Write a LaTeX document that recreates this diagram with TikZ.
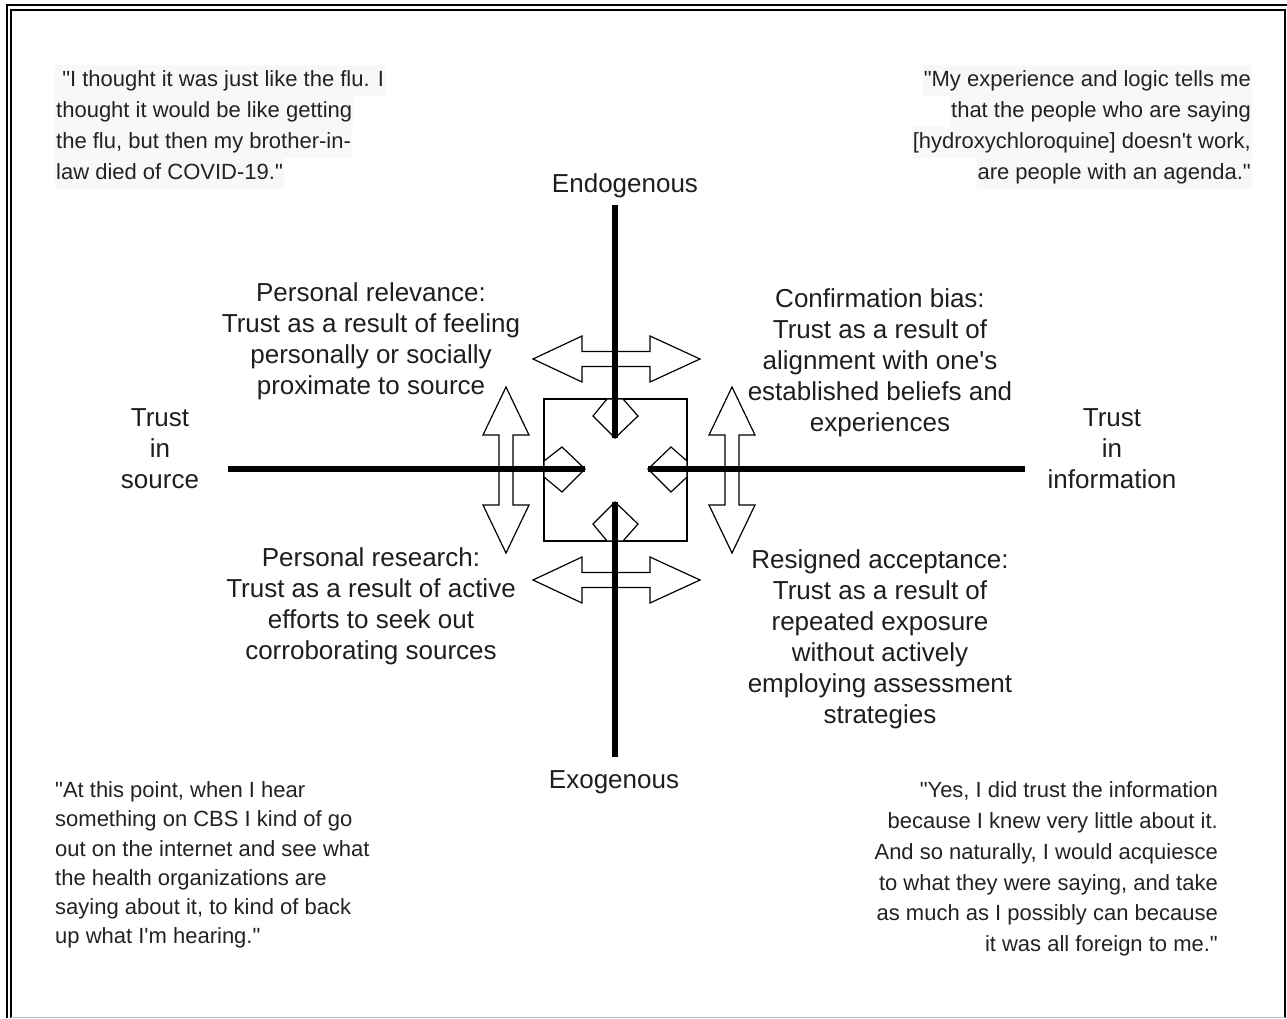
\documentclass[tikz,border=0pt]{standalone}
\usepackage{fontspec}
\setmainfont[Ligatures=TeXOff]{Liberation Sans}
\definecolor{txt}{HTML}{1E1E1E}
\definecolor{qtxt}{HTML}{222222}
\definecolor{qbg}{HTML}{F7F8FA}
\begin{document}
\begin{tikzpicture}[x=1pt,y=-1pt,
  lab/.style={font=\fontsize{26}{31}\selectfont, align=center, text=txt, inner sep=0pt},
  qline/.style={font=\fontsize{22}{31}\selectfont, text=qtxt, fill=qbg, inner xsep=1pt, inner ysep=0pt,
                minimum height=31pt, text height=16pt, text depth=5pt},
  qblock/.style={text=qtxt, inner sep=0pt},
  blockarrow/.style={draw=black, line width=1.2pt, fill=white, line join=miter},
  kite/.style={draw=black, line width=1.2pt, fill=white, line join=miter},
  axis/.style={draw=black, line width=6pt},
  frameline/.style={draw=black, line width=1.5pt}]
\useasboundingbox (0,0) rectangle (1287,1018);
% frame
\draw[frameline] (7,1018) -- (7,5) -- (1287,5);
\draw[frameline, line width=1.2pt] (11,1018) -- (11,10) -- (1285,10) -- (1285,1018);
\draw[black!25, line width=1pt] (11,1017.5) -- (1285,1017.5);

% top-left quote
\node[qline, anchor=west] (tl1) at (55,80.5) {\ "I thought it was just like the flu. I};
\node[qline, anchor=west] (tl2) at (55,111.5) {thought it would be like getting};
\node[qline, anchor=west] (tl3) at (55,142.5) {the flu, but then my brother-in-};
\node[qline, anchor=west] (tl4) at (55,173.5) {law died of COVID-19."};
% top-right quote
\node[qline, anchor=east] (tr1) at (1252,80.5) {"My experience and logic tells me};
\node[qline, anchor=east] (tr2) at (1252,111.5) {that the people who are saying};
\node[qline, anchor=east] (tr3) at (1252,142.5) {[hydroxychloroquine] doesn't work,};
\node[qline, anchor=east] (tr4) at (1252,173.5) {are people with an agenda."};
% bottom quotes
\node[qblock, font=\fontsize{22}{29.2}\selectfont, align=left, anchor=west] (bl) at (55,865)
  {"At this point, when I hear\\something on CBS I kind of go\\out on the internet and see what\\the health organizations are\\saying about it, to kind of back\\up what I'm hearing."};
\node[qblock, font=\fontsize{22}{30.8}\selectfont, align=right, anchor=east] (br) at (1218,869)
  {"Yes, I did trust the information\\because I knew very little about it.\\And so naturally, I would acquiesce\\to what they were saying, and take\\as much as I possibly can because\\it was all foreign to me."};

% labels
\node[lab] (endo) at (625,186) {Endogenous};
\node[lab] (exo) at (614,782) {Exogenous};
\node[lab] (tsrc) at (160,449) {Trust\\in\\source};
\node[lab] (tinf) at (1112,449) {Trust\\in\\information};
\node[lab] (prel) at (371,341) {Personal relevance:\\Trust as a result of feeling\\personally or socially\\proximate to source};
\node[lab] (conf) at (880,363) {Confirmation bias:\\Trust as a result of\\alignment with one's\\established beliefs and\\experiences};
\node[lab] (pres) at (371,606) {Personal research:\\Trust as a result of active\\efforts to seek out\\corroborating sources};
\node[lab] (resa) at (880,639) {Resigned acceptance:\\Trust as a result of\\repeated exposure\\without actively\\employing assessment\\strategies};

% central square
\draw[line width=1.2pt] (544,399) rectangle (687,541);

% double block arrows
\draw[blockarrow] (533,359) -- (582,336) -- (582,351.5) -- (650,351.5) -- (650,336) -- (700,359)
  -- (650,382) -- (650,366.5) -- (582,366.5) -- (582,382) -- cycle;
\draw[blockarrow] (533,580) -- (582,557) -- (582,572.5) -- (650,572.5) -- (650,557) -- (700,580)
  -- (650,603) -- (650,587.5) -- (582,587.5) -- (582,603) -- cycle;
\draw[blockarrow] (506,387) -- (529,435) -- (513,435) -- (513,505) -- (529,505) -- (506,553)
  -- (483,505) -- (499,505) -- (499,435) -- (483,435) -- cycle;
\draw[blockarrow] (732,387) -- (755,435) -- (739,435) -- (739,505) -- (755,505) -- (732,553)
  -- (709,505) -- (725,505) -- (725,435) -- (709,435) -- cycle;

% kite heads
\draw[kite] (615,438) -- (593,416) -- (607,399) -- (623,399) -- (638,416) -- cycle;
\draw[kite] (615,502) -- (593,524) -- (607,541) -- (623,541) -- (638,524) -- cycle;
\draw[kite] (585,469) -- (562,447) -- (544,461) -- (544,477) -- (562,492) -- cycle;
\draw[kite] (648,469) -- (671,447) -- (687,461) -- (687,477) -- (671,492) -- cycle;

% axes
\coordinate (atop) at (615,205);
\coordinate (abot) at (615,757);
\coordinate (aleft) at (228,469);
\coordinate (aright) at (1025,469);
\coordinate (ktop) at (615,438);
\coordinate (kbot) at (615,502);
\coordinate (kleft) at (585,469);
\coordinate (kright) at (648,469);
\draw[axis] (atop) -- (ktop);
\draw[axis] (abot) -- (kbot);
\draw[axis] (aleft) -- (kleft);
\draw[axis] (aright) -- (kright);
\end{tikzpicture}
\end{document}
